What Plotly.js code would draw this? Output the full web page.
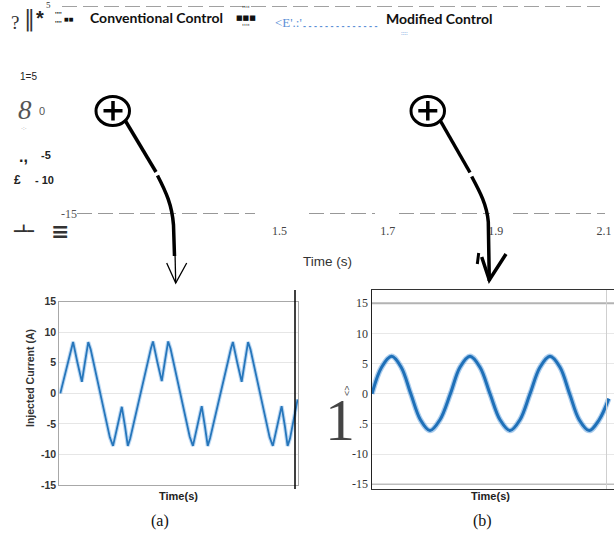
<!DOCTYPE html>
<html><head><meta charset="utf-8">
<script src="https://cdn.plot.ly/plotly-3.0.1.min.js"></script>
<style>html,body{margin:0;padding:0;background:#fff;}#chart{width:614px;height:535px;}</style>
</head><body><div id="chart"></div>
<script>
// ---- data ----
// (a) conventional control: injected current (A) vs time (ms)
const timeA = [0,1,2,2.7,3.2,4.3,5.4,6.2,7,7.6,10,12.4,13.2,14.3,15.4,16.2,16.9,17.5,
  20,21,22,22.7,23.2,24.3,25.4,26.2,27,27.6,30,32.4,33.2,34.3,35.4,36.2,36.9,37.5,
  40,41,42,42.7,43.2,44.3,45.4,46.2,47,47.6,50,52.4,53.2,54.3,55.4,56.2,56.9,57.5,59.4];
const currentA = [0,2.7,5.3,7.3,8.4,5.0,1.9,5.2,8.4,7.2,0,-7.2,-8.6,-5.2,-2.2,-5.4,-8.6,-7.4,
  0,2.8,5.4,7.4,8.5,5.1,2.0,5.3,8.5,7.3,0.1,-7.1,-8.6,-5.3,-2.1,-5.4,-8.6,-7.3,
  0,2.7,5.3,7.3,8.4,5.0,1.9,5.2,8.4,7.2,0,-7.2,-8.6,-5.2,-2.1,-5.3,-8.6,-7.4,-1.0];
// (b) modified control
const timeB = [0,2.4,4.9,7.3,9.7,12.1,14.5,17.0,19.6,22.0,24.5,27.0,29.5,32.0,34.5,37.0,39.5,42.0,44.5,47.0,49.4,51.8,54.3,56.8,59.2];
const currentB = [0,4.4,6.2,4.4,0,-4.3,-6.1,-4.3,0,4.4,6.2,4.4,0,-4.3,-6.1,-4.3,0,4.4,6.2,4.4,0,-4.3,-6.1,-4.3,-0.8];
// tick labels
const topTickVals = [1.5,1.7,1.9,2.1];
const topTickText = ['1.5','1.7','1.9','2.1'];
const topYTickVals = [-15];
const topYTickText = ['-15'];
const panelTicks = [15,10,5,0,-5,-10,-15];
const panelTickTextA = ['15','10','5','0','-5','-10','-15'];
const panelTickTextB = ['15','10','5','0','.5','-10','-15'];

// ---- helpers (pixel -> paper) ----
const W = 614, H = 535;
const px = v => v / W;
const py = v => 1 - v / H;
function path(cmds){
  return cmds.map(c => c[0] + ' ' + c.slice(1).map((v,i) => (i%2===0 ? px(v) : py(v)).toFixed(5)).join(' ')).join(' ');
}
const SANS = 'Liberation Sans, Arial, sans-serif';
const SERIF = 'Liberation Serif, Times New Roman, serif';
const LATO = 'Lato, Liberation Sans, sans-serif';
const DJ = 'DejaVu Sans, sans-serif';
function ann(text, x, y, size, o){
  o = o || {};
  return Object.assign({
    text: text, x: px(x), y: py(y), xref: 'paper', yref: 'paper', showarrow: false,
    xanchor: o.xanchor || 'center', yanchor: o.yanchor || 'middle',
    textangle: o.angle || 0, borderpad: 0,
    font: {family: o.family || SANS, size: size, color: o.color || '#222', weight: o.weight || 'normal', style: o.style || 'normal'}
  }, o.extra || {});
}

const traces = [
  {x: timeA, y: currentA, xaxis: 'x', yaxis: 'y', mode: 'lines', hoverinfo: 'skip',
   line: {color: 'rgba(110,170,228,0.45)', width: 4}},
  {x: timeA, y: currentA, xaxis: 'x', yaxis: 'y', mode: 'lines', hoverinfo: 'skip',
   line: {color: '#2676bb', width: 1.8}},
  {x: timeB, y: currentB, xaxis: 'x2', yaxis: 'y2', mode: 'lines', hoverinfo: 'skip',
   line: {color: 'rgba(70,145,215,0.45)', width: 5.5, shape: 'spline', smoothing: 1}},
  {x: timeB, y: currentB, xaxis: 'x2', yaxis: 'y2', mode: 'lines', hoverinfo: 'skip',
   line: {color: '#1f70b8', width: 3, shape: 'spline', smoothing: 1}},
  {x: [], y: [], xaxis: 'x3', yaxis: 'y3', mode: 'lines', hoverinfo: 'skip'}
];

const dashTop = {color: '#444', width: 1, dash: '15px,6px'};
const dashBot = {color: '#333', width: 1.2, dash: '15px,6px'};
const shapes = [
  // dashed guide lines of the upper plot
  {type:'line', xref:'paper', yref:'y3', x0:px(62), x1:px(600), y0:5, y1:5, line:dashTop},
  {type:'line', xref:'paper', yref:'y3', x0:px(77), x1:px(255), y0:-15, y1:-15, line:dashBot},
  {type:'line', xref:'paper', yref:'y3', x0:px(309), x1:px(375), y0:-15, y1:-15, line:dashBot},
  {type:'line', xref:'paper', yref:'y3', x0:px(399), x1:px(490), y0:-15, y1:-15, line:dashBot},
  {type:'line', xref:'paper', yref:'y3', x0:px(513), x1:px(605), y0:-15, y1:-15, line:dashBot},
  // panel (a) black vertical line
  {type:'line', xref:'paper', yref:'paper', x0:px(295), x1:px(295), y0:py(489), y1:py(290), line:{color:'#000', width:1.5}},
  // panel (b) grid emphasis and right border
  {type:'line', xref:'paper', yref:'y2', x0:px(372), x1:1, y0:15, y1:15, line:{color:'#b3b3b3', width:2}},
  {type:'line', xref:'paper', yref:'y2', x0:px(372), x1:1, y0:-15, y1:-15, line:{color:'#bdbdbd', width:1.5}},
  {type:'line', xref:'paper', yref:'paper', x0:px(606.5), x1:px(606.5), y0:py(489), y1:py(290), line:{color:'#cfcfcf', width:1}},
  // magnifier 1
  {type:'circle', xref:'paper', yref:'paper', x0:px(96), x1:px(129.5), y0:py(125.5), y1:py(96.5), line:{color:'#000', width:3}},
  {type:'path', xref:'paper', yref:'paper', path:path([['M',103.5,110.8],['L',122.5,110.8],['M',113,101],['L',113,120.5]]), line:{color:'#000', width:3.5}},
  {type:'path', xref:'paper', yref:'paper', path:path([['M',125.5,121],['L',156,172]]), line:{color:'#000', width:3.5}},
  {type:'path', xref:'paper', yref:'paper', path:path([['M',157.5,175.5],['C',166,192,172,205,173.5,225],['L',174.5,256]]), line:{color:'#000', width:3.5}},
  {type:'path', xref:'paper', yref:'paper', path:path([['M',175,252],['L',175.7,283]]), line:{color:'#000', width:1.3}},
  {type:'path', xref:'paper', yref:'paper', path:path([['M',166.7,263],['L',175.7,283],['L',186.7,263]]), line:{color:'#000', width:1.3}},
  // magnifier 2
  {type:'circle', xref:'paper', yref:'paper', x0:px(411), x1:px(444.5), y0:py(125.5), y1:py(96.5), line:{color:'#000', width:3}},
  {type:'path', xref:'paper', yref:'paper', path:path([['M',418.3,110.8],['L',437.3,110.8],['M',427.8,101],['L',427.8,120.5]]), line:{color:'#000', width:3.5}},
  {type:'path', xref:'paper', yref:'paper', path:path([['M',440.5,121],['L',470,172.5]]), line:{color:'#000', width:3.5}},
  {type:'path', xref:'paper', yref:'paper', path:path([['M',471.7,176.5],['C',480,192,487,205,488.3,222],['L',489.3,281]]), line:{color:'#000', width:3.5}},
  {type:'path', xref:'paper', yref:'paper', path:path([['M',481.7,257],['L',489.3,280],['L',506,254]]), line:{color:'#000', width:3.5}},
  {type:'path', xref:'paper', yref:'paper', path:path([['M',478.7,253],['L',477.3,264]]), line:{color:'#000', width:3}}
];

const annotations = [
  // header garble and legend texts
  ann('?', 15, 22, 19, {family: SERIF, color: '#333'}),
  ann('‖', 29, 19, 22, {family: 'DejaVu Serif, serif', color: '#333'}),
  ann('*', 40, 18, 20, {weight: 'bold', color: '#222'}),
  ann('5', 49, 5, 9, {family: SERIF, color: '#333'}),
  ann("''''<br>''''", 58, 19, 7, {weight: 'bold', color: '#222'}),
  ann('■■', 69, 19, 5, {family: DJ, color: '#111'}),
  ann('Conventional Control', 156.5, 17, 14, {family: LATO, weight: 'bold', color: '#111'}),
  ann("''''<br>■■■<br>''''", 246, 18, 7, {family: DJ, color: '#111'}),
  ann("<E'.:'", 274, 23, 13, {family: SERIF, color: '#5b8fd6', xanchor: 'left'}),
  ann('- - - - - - - - - - - - - -', 302, 26, 9, {family: SANS, color: '#5b8fd6', xanchor: 'left', weight: 'bold'}),
  ann('::::', 404, 33, 6, {family: SERIF, color: '#5b8fd6'}),
  ann('Modified Control', 439, 19, 14, {family: LATO, weight: 'bold', color: '#111'}),
  // left garbled y labels of upper plot
  ann('1=5', 28, 76.5, 10, {family: 'Liberation Sans Narrow, Liberation Sans, sans-serif', color: '#222'}),
  ann('8', 25, 110, 27, {family: SERIF, style: 'italic', color: '#555'}),
  ann('0', 41.5, 111, 11, {color: '#555'}),
  ann('·:·', 24, 128, 6, {color: '#777'}),
  ann('.,', 24, 157, 16, {weight: 'bold'}),
  ann('-5', 46, 155, 11, {weight: 'bold'}),
  ann('£', 17, 180, 12, {weight: 'bold'}),
  ann('- 10', 44, 180, 11, {weight: 'bold'}),
  ann('━┻━', 23, 231, 11, {family: 'DejaVu Sans Mono, monospace', color: '#333'}),
  ann('≡', 60, 231, 22, {family: DJ, color: '#333', weight: 'bold'}),
  ann('Time (s)', 327, 261, 13.5, {color: '#333'}),
  // panel (a)
  ann('Injected Current (A)', 30, 378, 10.5, {angle: -90, weight: 'bold', color: '#333'}),
  ann('Time(s)', 178, 496, 11, {weight: 'bold', color: '#222'}),
  ann('(a)', 160, 521, 16, {family: SERIF, color: '#111'}),
  // panel (b)
  ann('1', 356, 420, 60, {family: SERIF, color: '#444', xanchor: 'right'}),
  ann('<>', 347, 391, 9, {angle: -90, color: '#444'}),
  ann('Time(s)', 490, 496, 11, {weight: 'bold', color: '#222'}),
  ann('(b)', 482, 521, 16, {family: SERIF, color: '#111'})
];

const layout = {
  width: W, height: H, autosize: false,
  margin: {l:0, r:0, t:0, b:0, pad:0},
  paper_bgcolor: '#fff', plot_bgcolor: 'rgba(0,0,0,0)',
  showlegend: false,
  xaxis: {domain:[px(59.3), px(298)], range:[-0.25, 59.5], anchor:'y', showticklabels:false, ticks:'',
          showgrid:false, zeroline:false, showline:true, mirror:true, linecolor:'#a8a8a8', linewidth:1, fixedrange:true},
  yaxis: {domain:[py(485), py(301.7)], range:[-15, 15], anchor:'x', tickmode:'array', tickvals:panelTicks, ticktext:panelTickTextA,
          tickfont:{family:SANS, size:10.5, color:'#333', weight:'bold'}, ticks:'', showgrid:true, gridcolor:'#e6e6e6',
          zeroline:false, showline:true, mirror:true, linecolor:'#a8a8a8', linewidth:1, fixedrange:true},
  xaxis2: {domain:[px(372), 1], range:[0, 60.5], anchor:'y2', showticklabels:false, ticks:'',
           showgrid:false, zeroline:false, showline:true, mirror:true, linecolor:'#333', linewidth:1.2, fixedrange:true},
  yaxis2: {domain:[py(489), py(290)], range:[-15.78, 17.2], anchor:'x2', tickmode:'array', tickvals:panelTicks, ticktext:panelTickTextB,
           tickfont:{family:SERIF, size:12, color:'#333'}, ticks:'', showgrid:true, gridcolor:'#e8e8e8',
           zeroline:false, showline:true, mirror:false, linecolor:'#222', linewidth:1.5, fixedrange:true},
  xaxis3: {domain:[px(62), px(605)], range:[1.0978, 2.1018], anchor:'y3', tickmode:'array', tickvals:topTickVals, ticktext:topTickText,
           tickfont:{family:SERIF, size:12, color:'#444'}, ticks:'', ticklabelstandoff:8,
           showgrid:false, zeroline:false, showline:false, fixedrange:true},
  yaxis3: {domain:[py(214), py(6)], range:[-15, 5], anchor:'free', position:px(77), tickmode:'array', tickvals:topYTickVals, ticktext:topYTickText,
           tickfont:{family:SERIF, size:12, color:'#555'}, ticks:'',
           showgrid:false, zeroline:false, showline:false, fixedrange:true},
  shapes: shapes,
  annotations: annotations
};

Plotly.newPlot('chart', traces, layout, {displayModeBar:false, staticPlot:true});
</script>
</body></html>
